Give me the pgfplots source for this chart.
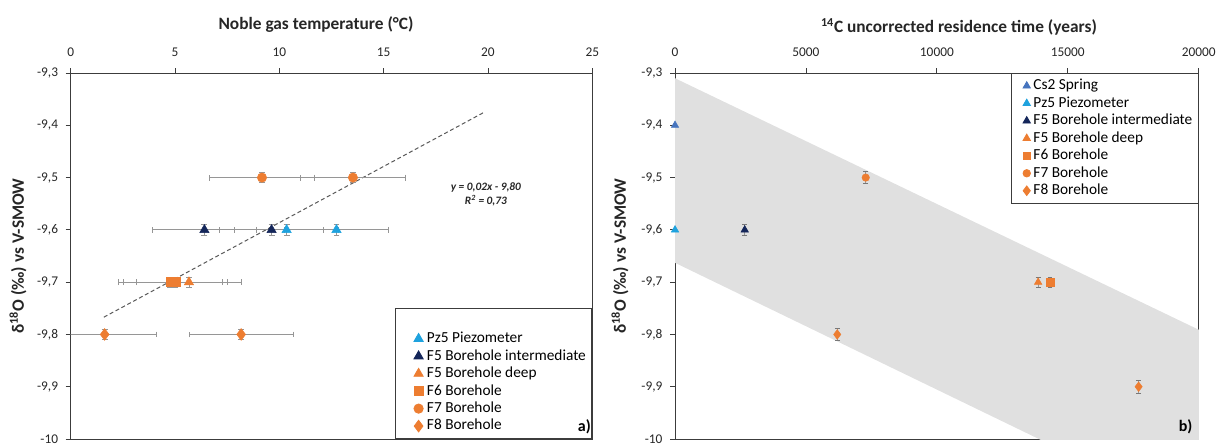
\documentclass[border=0pt]{standalone}
\usepackage{fontspec}
\setmainfont{Carlito}
\usepackage{pgfplots}
\pgfplotsset{compat=1.18}
\definecolor{lblue}{RGB}{30,162,222}
\definecolor{navy}{RGB}{20,38,90}
\definecolor{sblue}{RGB}{70,116,190}
\definecolor{orng}{RGB}{237,125,49}
\definecolor{bandc}{RGB}{224,224,224}
\definecolor{ebar}{RGB}{150,150,150}
\definecolor{axl}{RGB}{60,60,60}
\pgfplotsset{
  common/.style={
    scale only axis, height=274.5pt,
    ymin=-10, ymax=-9.3,
    ytick={-10,-9.9,-9.8,-9.7,-9.6,-9.5,-9.4,-9.3},
    yticklabels={-10,{-9,9},{-9,8},{-9,7},{-9,6},{-9,5},{-9,4},{-9,3}},
    scaled x ticks=false,
    xtick pos=right, ytick pos=left, xticklabel pos=right,
    tick align=outside, major tick length=3.75pt,
    tick style={axl, line width=0.6pt},
    axis line style={axl, line width=0.75pt},
    ticklabel style={font=\fontsize{10}{12}\selectfont, text=black!85},
    xticklabel style={inner sep=0pt, anchor=south},
    xticklabel shift=8pt,
    yticklabel style={inner sep=0pt, anchor=east},
    yticklabel shift=5.5pt,
    label style={font=\bfseries\fontsize{13}{15}\selectfont, text=black!85},
    legend style={draw=axl, line width=0.6pt, font=\fontsize{11.5}{13}\selectfont,
      inner sep=4.5pt, row sep=3.3pt,
      nodes={inner sep=0pt, text height=7.8pt, text depth=2pt}},
    legend cell align=left,
    error bars/error bar style={ebar, line width=0.7pt},
  },
}
\tikzset{ttl/.style={font=\bfseries\fontsize{13}{15}\selectfont, text=black!85, inner sep=0pt}}
\begin{document}
\begin{tikzpicture}
\useasboundingbox (0,0) rectangle (914.25pt,-333pt);
% ---------------- panel a
\begin{axis}[common, name=axa,
  at={(53.0pt,-329.25pt)}, anchor=south west, width=391.2pt,
  xmin=0, xmax=25, xtick={0,5,10,15,20,25},
  xticklabels={0,5,10,15,20,25},
  ylabel={δ\textsuperscript{18}O (‰) vs V-SMOW},
  ylabel style={at={(rel axis cs:-0.101,0.5)}, anchor=center},
  legend style={at={(1,0)}, anchor=south east},
  legend image code/.code={\draw[mark repeat=2,mark phase=2,#1] plot coordinates {(0pt,0pt) (12.5pt,0pt) (16pt,0pt)};
    \path (0pt,0pt) (18.5pt,0pt);},
  error bars/error mark options={rotate=90, mark size=2.2pt, ebar, line width=0.6pt},
]
\addplot[forget plot, dashed, black!65, line width=0.75pt, dash pattern=on 3pt off 2pt] coordinates {(1.59,-9.767) (19.84,-9.3746)};
\addlegendimage{empty legend}\addlegendentry{}
\addplot[only marks, mark=triangle*, mark size=4pt, color=lblue,
  error bars/.cd, x dir=both, x explicit, y dir=both, y explicit]
  coordinates {(10.35,-9.6) +- (2.5,0.01) (12.74,-9.6) +- (2.5,0.01)};
\addlegendentry{Pz5 Piezometer}
\addplot[only marks, mark=triangle*, mark size=4pt, color=navy,
  error bars/.cd, x dir=both, x explicit, y dir=both, y explicit]
  coordinates {(6.41,-9.6) +- (2.5,0.01) (9.63,-9.6) +- (2.5,0.01)};
\addlegendentry{F5 Borehole intermediate}
\addplot[only marks, mark=triangle*, mark size=4pt, color=orng,
  error bars/.cd, x dir=both, x explicit, y dir=both, y explicit]
  coordinates {(5.67,-9.7) +- (2.5,0.01)};
\addlegendentry{F5 Borehole deep}
\addplot[only marks, mark=square*, mark size=3.4pt, color=orng,
  error bars/.cd, x dir=both, x explicit, y dir=both, y explicit]
  coordinates {(4.78,-9.7) +- (2.5,0.01) (5.02,-9.7) +- (2.5,0.01)};
\addlegendentry{F6 Borehole}
\addplot[only marks, mark=*, mark size=3.5pt, color=orng,
  error bars/.cd, x dir=both, x explicit, y dir=both, y explicit]
  coordinates {(9.17,-9.5) +- (2.5,0.01) (13.53,-9.5) +- (2.5,0.01)};
\addlegendentry{F7 Borehole}
\addplot[only marks, mark=diamond*, mark size=4.4pt, color=orng,
  error bars/.cd, x dir=both, x explicit, y dir=both, y explicit]
  coordinates {(1.63,-9.8) +- (2.5,0.01) (8.17,-9.8) +- (2.5,0.01)};
\addlegendentry{F8 Borehole}
\node[font=\bfseries\itshape\fontsize{8.5}{10}\selectfont, align=center, text=black!85] at (axis cs:19.9,-9.532) {y = 0,02x - 9,80\\R\textsuperscript{2} = 0,73};
\end{axis}
\node[font=\bfseries\fontsize{12}{14}\selectfont] at ([xshift=-5.9pt,yshift=9pt]axa.south east) {a)};
\node[ttl] at ([xshift=184pt,yshift=36.2pt]axa.north west) {Noble gas temperature (°C)};
% ---------------- panel b
\begin{axis}[common, name=axb,
  at={(506.25pt,-329.25pt)}, anchor=south west, width=392.8pt,
  xmin=0, xmax=20000, xtick={0,5000,10000,15000,20000},
  xticklabels={0,5000,10000,15000,20000},
  ylabel={δ\textsuperscript{18}O (‰) vs V-SMOW},
  ylabel style={at={(rel axis cs:-0.105,0.5)}, anchor=center},
  legend style={at={(1,1)}, anchor=north east},
  legend image code/.code={\draw[mark repeat=2,mark phase=2,#1] plot coordinates {(0pt,0pt) (6.75pt,0pt) (10pt,0pt)};
    \path (0pt,0pt) (11.5pt,0pt);},
  error bars/error mark options={rotate=90, mark size=1.8pt, ebar!80!black, line width=0.6pt},
]
\addplot[forget plot, fill=bandc, draw=none] coordinates {(0,-9.31) (20000,-9.791) (20000,-10.148) (0,-9.663)};
\addplot[only marks, mark=triangle*, mark size=3.2pt, color=sblue] coordinates {(0,-9.4)};
\addlegendentry{Cs2 Spring}
\addplot[only marks, mark=triangle*, mark size=3.2pt, color=lblue] coordinates {(0,-9.6)};
\addlegendentry{Pz5 Piezometer}
\addplot[only marks, mark=triangle*, mark size=3.2pt, color=navy,
  error bars/.cd, y dir=both, y explicit]
  coordinates {(2662,-9.6) +- (0,0.01)};
\addlegendentry{F5 Borehole intermediate}
\addplot[only marks, mark=triangle*, mark size=3.2pt, color=orng,
  error bars/.cd, y dir=both, y explicit]
  coordinates {(13867,-9.7) +- (0,0.01)};
\addlegendentry{F5 Borehole deep}
\addplot[only marks, mark=square*, mark size=2.8pt, color=orng,
  error bars/.cd, y dir=both, y explicit]
  coordinates {(14321,-9.7) +- (0,0.01)};
\addlegendentry{F6 Borehole}
\addplot[only marks, mark=*, mark size=2.8pt, color=orng,
  error bars/.cd, y dir=both, y explicit]
  coordinates {(7283,-9.5) +- (0,0.012)};
\addlegendentry{F7 Borehole}
\addplot[only marks, mark=diamond*, mark size=3.6pt, color=orng,
  error bars/.cd, y dir=both, y explicit]
  coordinates {(6195,-9.8) +- (0,0.012) (17704,-9.9) +- (0,0.012)};
\addlegendentry{F8 Borehole}
\end{axis}
\node[font=\bfseries\fontsize{12}{14}\selectfont] at ([xshift=-9.9pt,yshift=9pt]axb.south east) {b)};
\node[ttl] at ([xshift=213pt,yshift=34.7pt]axb.north west) {\textsuperscript{14}C uncorrected residence time (years)};
\end{tikzpicture}
\end{document}
